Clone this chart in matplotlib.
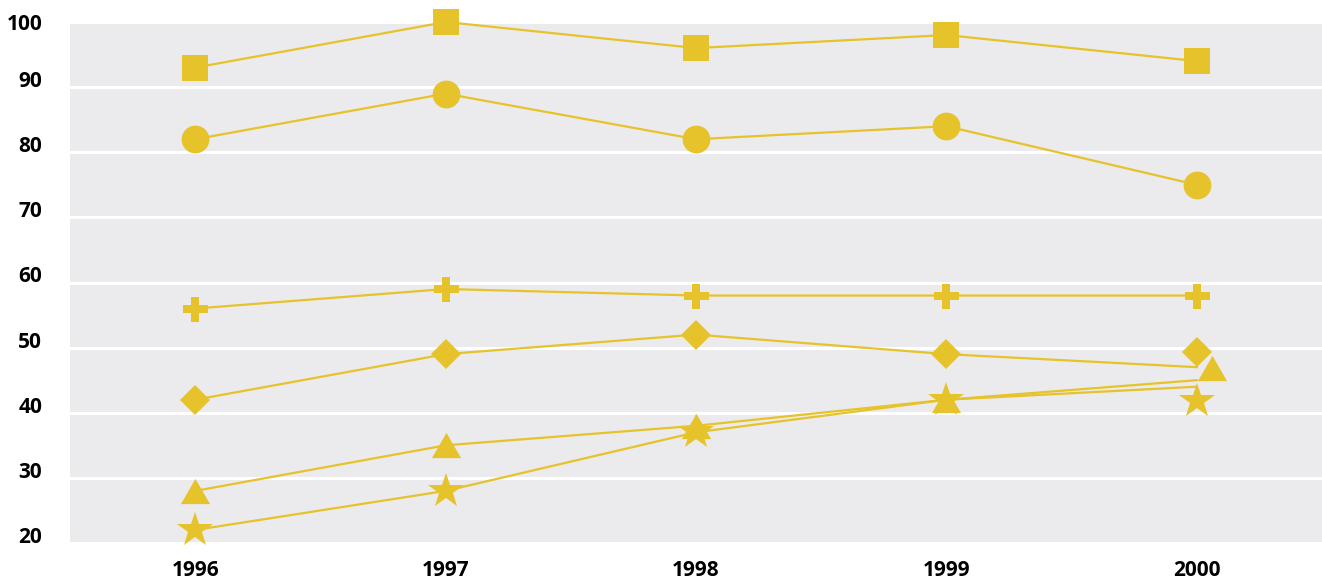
import matplotlib
matplotlib.use("Agg")
import matplotlib.pyplot as plt
import matplotlib.transforms as mtransforms
from matplotlib.path import Path

# ---- data -------------------------------------------------------------
years = [1996, 1997, 1998, 1999, 2000]
square_series = [93, 100, 96, 98, 94]
circle_series = [82, 89, 82, 84, 75]
plus_series = [56, 59, 58, 58, 58]
diamond_series = [42, 49, 52, 49, 47]
triangle_series = [28, 35, 38, 42, 45]
star_series = [22, 28, 37, 42, 44]
y_ticks = [20, 30, 40, 50, 60, 70, 80, 90, 100]

# ---- style ------------------------------------------------------------
GOLD = "#E6C22B"
PANEL = "#EBEBED"
FONT = {"family": ["Open Sans", "DejaVu Sans"], "weight": "bold", "size": 15}

# equilateral triangle, centred on its bounding box
tri_marker = Path([(0, 0.433), (-0.5, -0.433), (0.5, -0.433), (0, 0.433)],
                  [Path.MOVETO, Path.LINETO, Path.LINETO, Path.CLOSEPOLY])

series = [
    (square_series, "s", 18.5, (0, 0)),
    (circle_series, "o", 20, (0, 0)),
    (plus_series, "P", 18, (0, 0)),
    (diamond_series, "D", 14.8, (0, 10.8)),
    (triangle_series, tri_marker, 21, (10.8, 9)),
    (star_series, "*", 26.5, (0, -10)),
]

fig = plt.figure(figsize=(13.22, 5.80), dpi=100)
ax = fig.add_axes([70 / 1322, 37 / 580, 1 - 70 / 1322, 521 / 580])
ax.set_facecolor(PANEL)
for s in ax.spines.values():
    s.set_visible(False)

ax.set_xlim(1995.5, 2000.5)
ax.set_ylim(20, 100)
ax.set_yticks(y_ticks)
ax.set_xticks(years)
ax.yaxis.grid(True, color="white", linewidth=2.2)
ax.set_axisbelow(True)
ax.tick_params(length=0)
ax.tick_params(axis="y", pad=20)
ax.tick_params(axis="x", pad=12)
for lab in ax.get_xticklabels() + ax.get_yticklabels():
    lab.set_fontfamily(FONT["family"])
    lab.set_fontweight(FONT["weight"])
    lab.set_fontsize(FONT["size"])
# value labels sit on top of their grid line; the top one stays centred
for tick in ax.yaxis.get_major_ticks():
    if tick.get_loc() < y_ticks[-1]:
        tick.label1.set_verticalalignment("baseline")

for values, marker, size, nudge in series:
    ax.plot(years, values, color=GOLD, linewidth=1.6, zorder=3, clip_on=False)
    # all but the last point sit on the line
    ax.plot(years[:-1], values[:-1], linestyle="none", marker=marker,
            markersize=size, color=GOLD, markeredgewidth=0, zorder=4,
            clip_on=False)
    # the final marker is nudged to keep overlapping symbols legible
    tr = mtransforms.offset_copy(ax.transData, fig=fig, x=nudge[0],
                                 y=nudge[1], units="points")
    ax.plot(years[-1:], values[-1:], linestyle="none", marker=marker,
            markersize=size, color=GOLD, markeredgewidth=0, zorder=4,
            clip_on=False, transform=tr)

fig.savefig("out.png", dpi=100)
